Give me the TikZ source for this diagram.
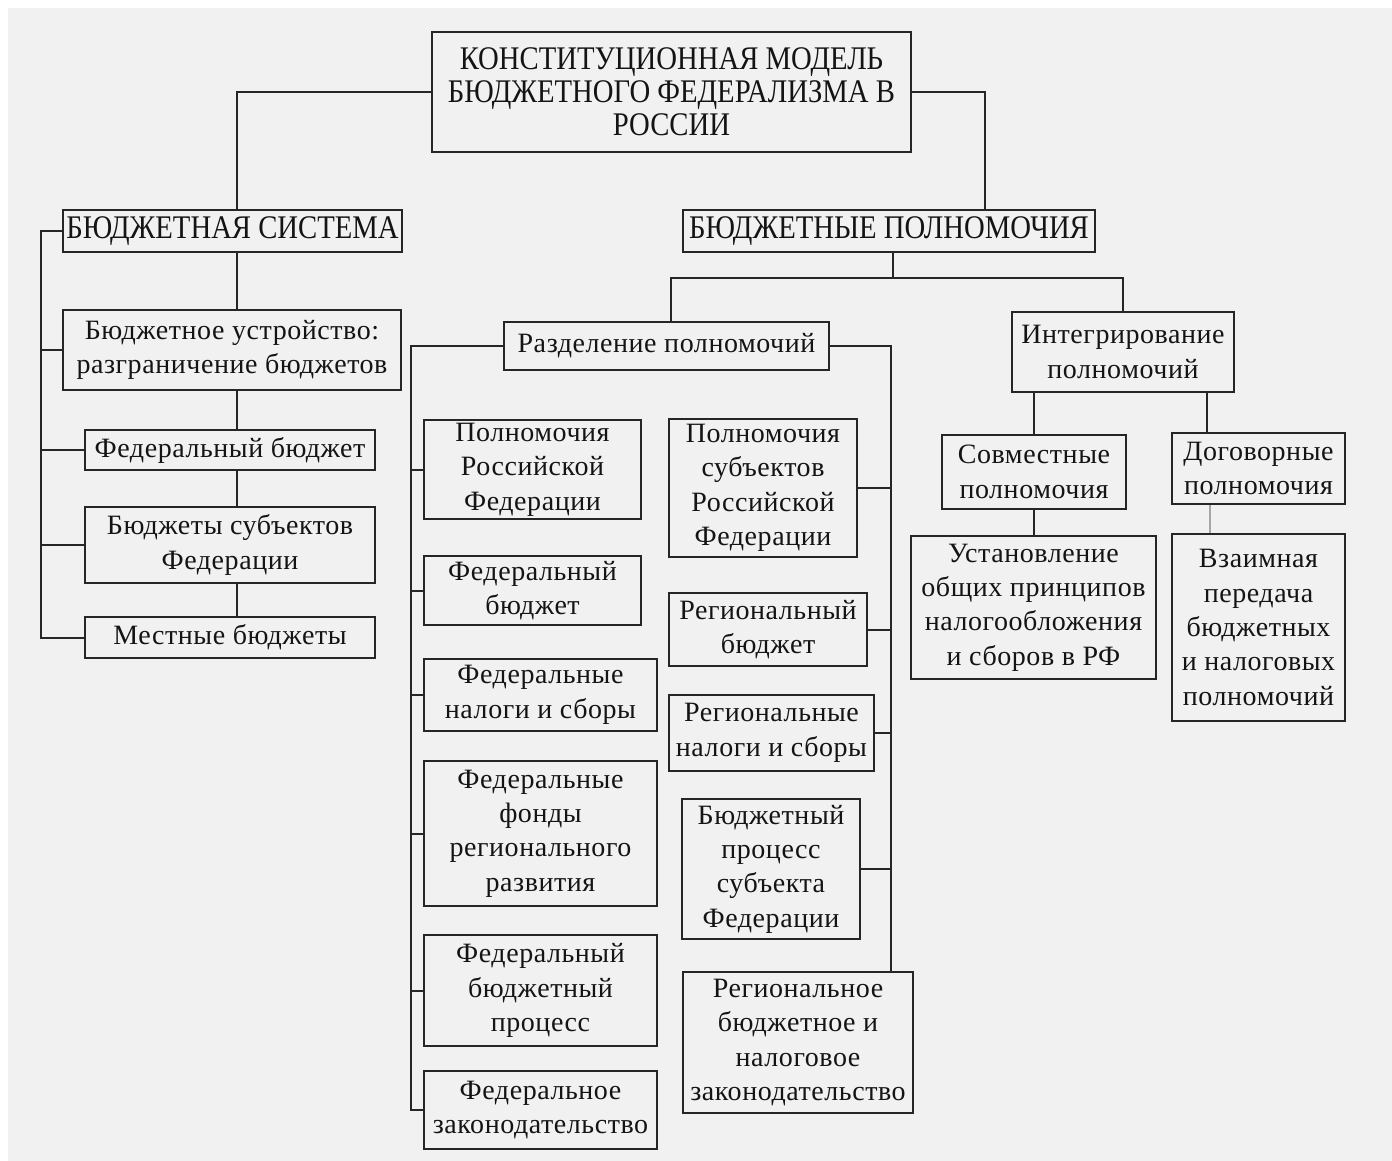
\documentclass[tikz,border=0pt]{standalone}
\usepackage{fontspec}
\setmainfont{Liberation Serif}
\newfontfamily\boxfont[LetterSpace=2]{Liberation Serif}
\newfontfamily\capsfont[FakeStretch=0.87]{Liberation Serif}
\usepackage{xcolor}
\usepackage{tikz}
\usetikzlibrary{positioning}

\definecolor{bg}{HTML}{F1F1F1}
\definecolor{ink}{HTML}{141414}
\definecolor{linec}{HTML}{262626}

\begin{document}
\begin{tikzpicture}[
    x=0.5pt, y=-0.5pt,
    box/.style={draw=linec, line width=1pt, fill=bg, inner sep=0pt, align=center, text=ink,
        font=\boxfont\fontsize{14}{17.2}\selectfont},
    capsbox/.style={box, font=\capsfont\fontsize{16.5}{16.5}\selectfont},
    wh/.style 2 args={minimum width=#1*0.5pt, minimum height=#2*0.5pt},
    link/.style={draw=linec, line width=1pt},
]
\useasboundingbox (0,0) rectangle (1392,1161);
\fill[white] (0,0) rectangle (1392,1161);
\fill[bg] (8,8) rectangle (1392,1161);

% === TOP ===
\node[capsbox, wh={479}{120}] (top) at (671.5,92) {КОНСТИТУЦИОННАЯ МОДЕЛЬ\\БЮДЖЕТНОГО ФЕДЕРАЛИЗМА В\\РОССИИ};
\node[capsbox, wh={339}{42}] (bs) at (232.5,231) {БЮДЖЕТНАЯ СИСТЕМА};
\node[capsbox, wh={412}{42}] (bp) at (889,231) {БЮДЖЕТНЫЕ ПОЛНОМОЧИЯ};

\coordinate (lchain) at (237,0);
\coordinate (bpin) at (985,210);
\draw[link] (top.west) -| (bs.north -| lchain);
\draw[link] (top.east) -| (bpin);

% === BUDGET SYSTEM ===
\node[box, wh={338}{80}] (ustr) at (232,350) {Бюджетное устройство:\\разграничение бюджетов};
\node[box, wh={290}{40}] (fb) at (230,450) {Федеральный бюджет};
\node[box, wh={290}{76}] (bsf) at (230,545) {Бюджеты субъектов\\Федерации};
\node[box, wh={290}{41}] (mb) at (230,637.5) {Местные бюджеты};

\draw[link] (bs.south -| lchain) -- (ustr.north -| lchain);
\draw[link] (ustr.south -| lchain) -- (fb.north -| lchain);
\draw[link] (fb.south -| lchain) -- (bsf.north -| lchain);
\draw[link] (bsf.south -| lchain) -- (mb.north -| lchain);

\coordinate (lbus) at (41,0);
\draw[link] (bs.west) -- (bs.west -| lbus) -- (mb.west -| lbus) -- (mb.west);
\foreach \n in {ustr, fb, bsf}
    \draw[link] (\n.west) -- (\n.west -| lbus);

% === POWERS ===
\node[box, wh={325}{48}] (razd) at (666.5,346) {Разделение полномочий};
\node[box, wh={222}{80}] (integ) at (1123,352) {Интегрирование\\полномочий};

\coordinate (split) at (893,278);
\coordinate (razdx) at (671,0);
\draw[link] (bp.south -| split) -- (split);
\draw[link] (razd.north -| razdx) |- (split) -| (integ.north);

% federal side
\node[box, wh={217}{99}] (fed1) at (532.5,469.5) {Полномочия\\Российской\\Федерации};
\node[box, wh={217}{69}] (fed2) at (532.5,590.5) {Федеральный\\бюджет};
\node[box, wh={233}{72}] (fed3) at (540.5,695) {Федеральные\\налоги и сборы};
\node[box, wh={233}{145}] (fed4) at (540.5,833.5) {Федеральные\\фонды\\регионального\\развития};
\node[box, wh={233}{111}] (fed5) at (540.5,990.5) {Федеральный\\бюджетный\\процесс};
\node[box, wh={233}{78}] (fed6) at (540.5,1110) {Федеральное\\законодательство};

\coordinate (fbus) at (411,0);
\draw[link] (razd.west) -| (fed6.west -| fbus) -- (fed6.west);
\foreach \n in {fed1, fed2, fed3, fed4, fed5}
    \draw[link] (\n.west) -- (\n.west -| fbus);

% regional side
\node[box, wh={188}{138}] (reg1) at (763,488) {Полномочия\\субъектов\\Российской\\Федерации};
\node[box, wh={198}{73}] (reg2) at (768,629.5) {Региональный\\бюджет};
\node[box, wh={205}{76}] (reg3) at (771.5,733) {Региональные\\налоги и сборы};
\node[box, wh={178}{140}] (reg4) at (771,869) {Бюджетный\\процесс\\субъекта\\Федерации};
\node[box, wh={230}{141}] (reg5) at (798,1042.5) {Региональное\\бюджетное и\\налоговое\\законодательство};

\coordinate (rbus) at (891,0);
\draw[link] (razd.east) -| (reg5.north -| rbus);
\foreach \n in {reg1, reg2, reg3, reg4}
    \draw[link] (\n.east) -- (\n.east -| rbus);

% integration side
\node[box, wh={184}{74}] (sovm) at (1034,472) {Совместные\\полномочия};
\node[box, wh={173}{71}] (dogov) at (1258.5,468.5) {Договорные\\полномочия};
\node[box, wh={245}{143}] (ustan) at (1033.5,607.5) {Установление\\общих принципов\\налогообложения\\и сборов в РФ};
\node[box, wh={173}{187}] (vzaim) at (1258.5,627.5) {Взаимная\\передача\\бюджетных\\и налоговых\\полномочий};

\coordinate (dogx) at (1207,0);
\coordinate (vzx) at (1210,0);
\draw[link] (sovm.north) -- (sovm.north |- integ.south);
\draw[link] (integ.south -| dogx) -- (dogov.north -| dogx);
\draw[link] (sovm.south) -- (sovm.south |- ustan.north);
\draw[link, draw=gray!70] (dogov.south -| vzx) -- (vzaim.north -| vzx);

\end{tikzpicture}
\end{document}
